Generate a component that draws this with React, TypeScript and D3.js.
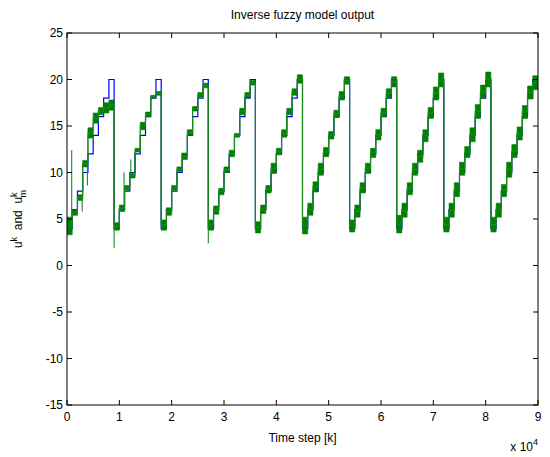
import React from 'react'
import * as d3 from 'd3'

// time axis is in units of 1e4 samples, each reference level is held for 1000 samples
const stepLength = 0.1

// reference input u^k (blue staircase), one row per period
const referenceLevels = [
  4, 6, 8, 10, 12, 14, 16, 18, 20,
  4, 6, 8, 10, 12, 14, 16, 18, 20,
  4, 6, 8, 10, 12, 14, 16, 18, 20,
  4, 6, 8, 10, 12, 14, 16, 18, 20,
  4, 6, 8, 10, 12, 14, 16, 18, 20,
  4, 6, 8, 10, 12, 14, 16, 18, 20,
  4, 6, 8, 10, 12, 14, 16, 18, 20,
  4, 6, 8, 10, 12, 14, 16, 18, 20,
  4, 6, 8, 10, 12, 14, 16, 18, 20,
  4, 6, 8, 10, 12, 14, 16, 18, 20,
]

// inverse model output u^k_m (green), lower / upper edge of the oscillation in each step
const modelLow = [
  3.3, 5.4, 7.0, 10.6, 13.7, 15.3, 16.2, 16.4, 16.7,
  3.8, 5.8, 8.1, 9.4, 12.2, 14.6, 16.0, 18.0, 18.3,
  3.8, 5.4, 8.1, 10.1, 11.4, 14.0, 16.6, 18.1, 19.1,
  3.8, 5.5, 7.6, 10.0, 11.7, 13.8, 16.2, 18.0, 19.4,
  3.5, 5.6, 7.8, 9.9, 11.9, 13.8, 16.2, 18.3, 19.6,
  3.4, 5.4, 7.9, 9.7, 11.7, 13.6, 15.9, 17.8, 19.5,
  3.6, 5.2, 7.8, 9.9, 11.6, 13.5, 16.0, 18.0, 19.2,
  3.5, 5.2, 7.6, 9.7, 11.1, 13.3, 15.8, 17.8, 19.2,
  3.6, 5.2, 7.4, 9.7, 11.6, 13.3, 15.8, 18.0, 19.2,
  3.6, 5.2, 7.4, 9.5, 11.6, 13.5, 15.8, 17.9, 18.9,
]
const modelHigh = [
  5.2, 6.0, 7.6, 11.3, 14.8, 16.4, 17.0, 17.5, 17.8,
  4.6, 6.5, 8.6, 9.9, 12.6, 15.4, 16.5, 18.3, 18.7,
  4.9, 6.2, 8.6, 10.6, 12.1, 14.6, 17.1, 18.6, 19.6,
  4.9, 6.4, 8.3, 10.6, 12.4, 14.2, 16.9, 18.6, 19.9,
  4.7, 6.5, 8.6, 11.0, 12.6, 14.6, 16.9, 19.0, 20.5,
  5.2, 6.7, 9.0, 11.0, 12.7, 14.4, 16.7, 18.7, 20.3,
  4.9, 6.5, 8.9, 11.0, 12.6, 14.6, 16.9, 19.0, 20.3,
  5.4, 6.7, 8.9, 11.0, 12.4, 14.6, 17.0, 19.2, 20.7,
  5.2, 6.7, 8.9, 11.1, 12.8, 14.8, 17.3, 19.4, 20.8,
  5.2, 6.7, 8.7, 11.1, 13.0, 14.9, 17.2, 19.3, 20.4,
]

// isolated transients of the model output
const spikeTimes = [0.09, 0.29, 0.39, 0.9, 1.09, 1.22, 2.7]
const spikeValues = [12.4, 5.8, 8.6, 1.9, 10.0, 11.4, 2.4]

const xTicks = [0, 1, 2, 3, 4, 5, 6, 7, 8, 9]
const yTicks = [-15, -10, -5, 0, 5, 10, 15, 20, 25]

const width = 550
const height = 457
const margin = { left: 67, right: 12, top: 33, bottom: 52 }
const font = '"Liberation Sans", Arial, Helvetica, sans-serif'

const App = (): JSX.Element => {
  const x = d3.scaleLinear().domain([0, 9]).range([margin.left, width - margin.right])
  const y = d3.scaleLinear().domain([-15, 25]).range([height - margin.bottom, margin.top])
  const [x0, x1] = x.range()
  const [y0, y1] = y.range()
  const tickLen = 5

  const stepRows = (vals: number[]): [number, number][] => [
    ...vals.map((v, i): [number, number] => [i * stepLength, v]),
    [vals.length * stepLength, vals[vals.length - 1]],
  ]
  const stepLine = d3
    .line<[number, number]>()
    .x(d => x(d[0]))
    .y(d => y(d[1]))
    .curve(d3.curveStepAfter)

  const modelMid = modelLow.map((lo, i) => (lo + modelHigh[i]) / 2)
  const bandRows: [number, number, number][] = [
    ...modelLow.map((lo, i): [number, number, number] => [i * stepLength, lo, modelHigh[i]]),
    [modelLow.length * stepLength, modelLow[modelLow.length - 1], modelHigh[modelHigh.length - 1]],
  ]
  const band = d3
    .area<[number, number, number]>()
    .x(d => x(d[0]))
    .y0(d => y(d[1]))
    .y1(d => y(d[2]))
    .curve(d3.curveStepAfter)

  return (
    <svg
      width={width}
      height={height}
      style={{ position: 'absolute', left: 0, top: 0, background: '#fff' }}
      fontFamily={font}
    >
      <defs>
        <clipPath id='plot-area'>
          <rect x={x0} y={y1} width={x1 - x0} height={y0 - y1} />
        </clipPath>
      </defs>
      <rect width={width} height={height} fill='#fff' />

      <g clipPath='url(#plot-area)'>
        <path d={stepLine(stepRows(referenceLevels)) || ''} fill='none' stroke='#0000ff' strokeWidth={1.2} />
        <path d={band(bandRows) || ''} fill='#008000' stroke='#008000' strokeWidth={0.6} />
        <path d={stepLine(stepRows(modelMid)) || ''} fill='none' stroke='#1a8a1a' strokeWidth={1.1} />
        {spikeTimes.map((t, i) => {
          const base = modelMid[Math.floor(t / stepLength + 1e-9)]
          return (
            <line
              key={i}
              x1={x(t)}
              x2={x(t)}
              y1={y(base)}
              y2={y(spikeValues[i])}
              stroke='#1a8a1a'
              strokeWidth={1.1}
            />
          )
        })}
      </g>

      <rect x={x0} y={y1} width={x1 - x0} height={y0 - y1} fill='none' stroke='#000' strokeWidth={1} />

      {xTicks.map(t => (
        <g key={'x' + t}>
          <line x1={x(t)} x2={x(t)} y1={y0} y2={y0 - tickLen} stroke='#000' />
          <line x1={x(t)} x2={x(t)} y1={y1} y2={y1 + tickLen} stroke='#000' />
          <text x={x(t)} y={y0 + 16} fontSize={12} textAnchor='middle'>
            {t}
          </text>
        </g>
      ))}
      {yTicks.map(t => (
        <g key={'y' + t}>
          <line x1={x0} x2={x0 + tickLen} y1={y(t)} y2={y(t)} stroke='#000' />
          <line x1={x1} x2={x1 - tickLen} y1={y(t)} y2={y(t)} stroke='#000' />
          <text x={x0 - 4} y={y(t) + 4} fontSize={12} textAnchor='end'>
            {t}
          </text>
        </g>
      ))}

      <text x={(x0 + x1) / 2} y={19} fontSize={12} textAnchor='middle'>
        Inverse fuzzy model output
      </text>
      <text x={(x0 + x1) / 2} y={y0 + 37} fontSize={12} textAnchor='middle'>
        Time step [k]
      </text>
      <text x={x1} y={y0 + 46} fontSize={12} textAnchor='end'>
        x 10<tspan fontSize={9} dy={-6}>4</tspan>
      </text>
      <text
        transform={`translate(22,${(y0 + y1) / 2}) rotate(-90)`}
        fontSize={12}
        textAnchor='middle'
        xmlSpace='preserve'
        style={{ whiteSpace: 'pre' }}
      >
        u<tspan fontSize={9} dy={-5}>k</tspan>
        <tspan dy={5}>{'  and  u'}</tspan>
        <tspan fontSize={9} dy={-5}>k</tspan>
        <tspan fontSize={9} dx={-5} dy={9}>m</tspan>
      </text>
    </svg>
  )
}

export default App
